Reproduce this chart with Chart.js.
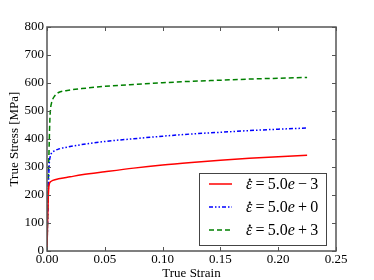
<!DOCTYPE html>
<html><head><meta charset="utf-8">
<script src="https://cdn.jsdelivr.net/npm/chart.js@4/dist/chart.umd.min.js"></script>
<style>html,body{margin:0;padding:0;background:#fff}#wrap{width:374px;height:280px}</style>
</head><body><div id="wrap"><canvas id="c" width="374" height="280"></canvas></div>
<script>
const rateLabels = ['ε̇=5.0e−3', 'ε̇=5.0e+0', 'ε̇=5.0e+3'];
const strainRed   = [0,0.0005,0.001,0.0015,0.002,0.003,0.005,0.01,0.02,0.03,0.05,0.075,0.1,0.125,0.15,0.175,0.2,0.225];
const stressRed   = [0,100,180,225,240,247,252,258,265,272,283,296,307,316,324,331,337,342];
const strainBlue  = [0,0.0005,0.001,0.0015,0.002,0.003,0.004,0.006,0.01,0.02,0.03,0.05,0.075,0.1,0.125,0.15,0.175,0.2,0.225];
const stressBlue  = [0,110,200,270,315,340,350,357,364,373,380,391,401,410,418,424,430,435,439];
const strainGreen = [0,0.0005,0.001,0.0015,0.002,0.0025,0.003,0.004,0.006,0.008,0.01,0.02,0.03,0.05,0.075,0.1,0.125,0.15,0.175,0.2,0.225];
const stressGreen = [0,110,210,310,400,470,505,530,550,560,566,575,580,588,595,601,606,610,614,617,620];
const xTicks = [0,0.05,0.1,0.15,0.2,0.25];
const yTicks = [0,100,200,300,400,500,600,700,800];

const pts = (xs, ys) => xs.map((x, i) => ({x, y: ys[i]}));
const SERIF = '"Liberation Serif","Times New Roman",serif';

const frameTicks = {
  id: 'frameTicks',
  afterDatasetsDraw(chart) {
    const {ctx, chartArea: a, scales: {x, y}} = chart;
    ctx.save();
    ctx.strokeStyle = '#555';
    ctx.lineWidth = 1;
    ctx.beginPath();
    xTicks.forEach(v => {
      const px = Math.round(x.getPixelForValue(v)) + 0.5;
      ctx.moveTo(px, a.bottom); ctx.lineTo(px, a.bottom - 4);
      ctx.moveTo(px, a.top); ctx.lineTo(px, a.top + 4);
    });
    yTicks.forEach(v => {
      const py = Math.round(y.getPixelForValue(v)) + 0.5;
      ctx.moveTo(a.left, py); ctx.lineTo(a.left + 4, py);
      ctx.moveTo(a.right, py); ctx.lineTo(a.right - 4, py);
    });
    ctx.stroke();
    ctx.lineWidth = 1.5;
    ctx.strokeRect(a.left, a.top, a.right - a.left, a.bottom - a.top);
    ctx.restore();
  }
};

function drawMathLabel(ctx, text, x, y, size) {
  const chars = Array.from(text);
  let cx = x;
  for (let i = 0; i < chars.length; i++) {
    const ch = chars[i];
    if (ch === '\u0307') continue;
    const dotted = chars[i+1] === '\u0307';
    const italic = ch === 'ε' || ch === 'e';
    const op = (ch === '=' || ch === '−' || ch === '+');
    ctx.font = (italic ? 'italic ' : '') + size + 'px ' + SERIF;
    if (op) cx += size * 0.2;
    ctx.fillText(ch, cx, y);
    const w = ctx.measureText(ch).width;
    if (dotted) {
      ctx.beginPath();
      ctx.arc(cx + w * 0.6, y - size * 0.33, size * 0.07, 0, Math.PI * 2);
      ctx.fill();
    }
    cx += w;
    if (op) cx += size * 0.2;
  }
}

const insideLegend = {
  id: 'insideLegend',
  afterDraw(chart) {
    const {ctx, chartArea: a} = chart;
    const bx = a.left + 152, by = a.top + 146, bw = 127, bh = 72;
    ctx.save();
    ctx.fillStyle = '#fff';
    ctx.fillRect(bx, by, bw, bh);
    ctx.strokeStyle = '#444';
    ctx.lineWidth = 1;
    ctx.strokeRect(bx + 0.5, by + 0.5, bw, bh);
    chart.data.datasets.forEach((ds, i) => {
      const ry = by + 11 + i * 23;
      ctx.strokeStyle = ds.borderColor;
      ctx.lineWidth = ds.borderWidth;
      ctx.setLineDash(ds.borderDash || []);
      ctx.beginPath();
      ctx.moveTo(bx + 10, ry); ctx.lineTo(bx + 33, ry);
      ctx.stroke();
      ctx.setLineDash([]);
      ctx.fillStyle = '#000';
      ctx.textBaseline = 'middle';
      ctx.textAlign = 'left';
      drawMathLabel(ctx, ds.label, bx + 47, ry + 1, 16);
    });
    ctx.restore();
  }
};

new Chart(document.getElementById('c'), {
  type: 'line',
  data: {
    datasets: [
      {label: rateLabels[0], data: pts(strainRed, stressRed), borderColor: '#ff0000', borderWidth: 1.5, pointRadius: 0, cubicInterpolationMode: 'monotone', fill: false},
      {label: rateLabels[1], data: pts(strainBlue, stressBlue), borderColor: '#0000ff', borderWidth: 1.5, borderDash: [4,2,1.5,2,1.5,2], pointRadius: 0, cubicInterpolationMode: 'monotone', fill: false},
      {label: rateLabels[2], data: pts(strainGreen, stressGreen), borderColor: '#008000', borderWidth: 1.5, borderDash: [5,3], pointRadius: 0, cubicInterpolationMode: 'monotone', fill: false}
    ]
  },
  options: {
    responsive: false,
    animation: false,
    layout: {padding: {left: 0, top: 27, right: 38, bottom: 0}},
    plugins: {legend: {display: false}, tooltip: {enabled: false}},
    scales: {
      x: {
        type: 'linear', min: 0, max: 0.25,
        afterBuildTicks: s => { s.ticks = xTicks.map(v => ({value: v})); },
        afterFit: s => { s.height = 29; },
        grid: {display: false, drawTicks: false},
        border: {display: false},
        ticks: {color: '#000', padding: 1, font: {family: SERIF, size: 13}, callback: v => v.toFixed(2)},
        title: {display: true, text: 'True Strain', color: '#000', font: {family: SERIF, size: 13, lineHeight: 1}, padding: {top: 0, bottom: 0}}
      },
      y: {
        type: 'linear', min: 0, max: 800,
        afterBuildTicks: s => { s.ticks = yTicks.map(v => ({value: v})); },
        afterFit: s => { s.width = 47; },
        grid: {display: false, drawTicks: false},
        border: {display: false},
        ticks: {color: '#000', padding: 3, font: {family: SERIF, size: 13}},
        title: {display: true, text: 'True Stress [MPa]', color: '#000', font: {family: SERIF, size: 13}, padding: {top: 7, bottom: 0}}
      }
    }
  },
  plugins: [frameTicks, insideLegend]
});
</script>
</body></html>
